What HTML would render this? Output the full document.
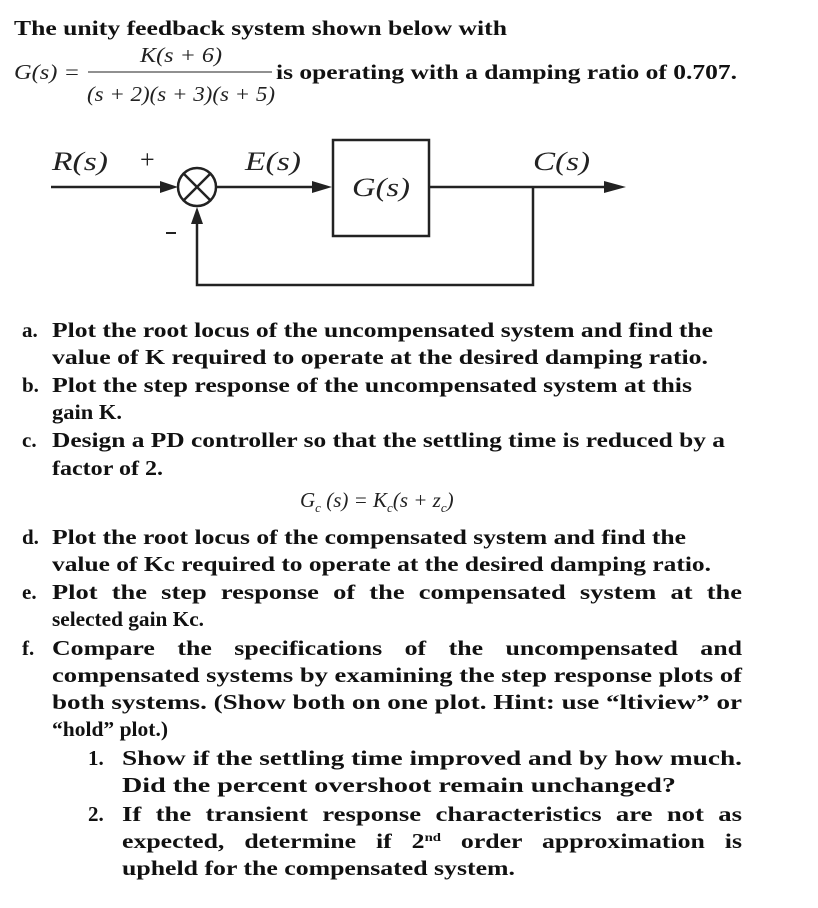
<!DOCTYPE html>
<html><head><meta charset="utf-8"><style>
html,body{margin:0;padding:0;background:#fff;}
svg{display:block}
.t{font-family:"Liberation Serif",serif;font-weight:bold;font-size:21px;fill:#111}
.m{font-family:"Liberation Serif",serif;font-style:italic;font-weight:normal;font-size:21px;fill:#222}
.d{font-family:"Liberation Serif",serif;font-style:italic;font-weight:normal;font-size:26px;fill:#222}
</style></head><body>
<svg width="818" height="908" viewBox="0 0 818 908" xmlns="http://www.w3.org/2000/svg">
<text class="t" x="14" y="35" textLength="493" lengthAdjust="spacingAndGlyphs">The unity feedback system shown below with</text>
<text class="m" x="14" y="79" textLength="66" lengthAdjust="spacingAndGlyphs">G(s) =</text>
<text class="m" x="140" y="62" textLength="82" lengthAdjust="spacingAndGlyphs">K(s + 6)</text>
<line x1="88" y1="72" x2="272" y2="72" stroke="#222" stroke-width="1"/>
<text class="m" x="87" y="101" textLength="188" lengthAdjust="spacingAndGlyphs">(s + 2)(s + 3)(s + 5)</text>
<text class="t" x="276" y="79" textLength="461" lengthAdjust="spacingAndGlyphs">is operating with a damping ratio of 0.707.</text>

<g stroke="#222" stroke-width="2.5" fill="none">
<line x1="51" y1="187" x2="170" y2="187"/>
<circle cx="197" cy="187" r="19"/>
<line x1="184" y1="174" x2="210" y2="200"/>
<line x1="210" y1="174" x2="184" y2="200"/>
<line x1="216" y1="187" x2="322" y2="187"/>
<rect x="333" y="140" width="96" height="96"/>
<line x1="430" y1="187" x2="612" y2="187"/>
<polyline points="533,187 533,285 197,285 197,216"/>
</g>
<g fill="#222">
<polygon points="178,187 160,181 160,193"/>
<polygon points="332,187 312,181 312,193"/>
<polygon points="626,187 604,181 604,193"/>
<polygon points="197,207 191,224 203,224"/>
</g>
<text class="d" x="52" y="170" textLength="56" lengthAdjust="spacingAndGlyphs">R(s)</text>
<text class="d" x="140" y="168" style="font-style:normal">+</text>
<text class="d" x="245" y="170" textLength="56" lengthAdjust="spacingAndGlyphs">E(s)</text>
<text class="d" x="352" y="196" textLength="58" lengthAdjust="spacingAndGlyphs">G(s)</text>
<text class="d" x="533" y="170" textLength="57" lengthAdjust="spacingAndGlyphs">C(s)</text>
<line x1="166" y1="233" x2="176" y2="233" stroke="#222" stroke-width="2"/>

<text class="t" x="22" y="337">a.</text>
<text class="t" x="52" y="337" textLength="661" lengthAdjust="spacingAndGlyphs">Plot the root locus of the uncompensated system and find the</text>
<text class="t" x="52" y="364" textLength="656" lengthAdjust="spacingAndGlyphs">value of K required to operate at the desired damping ratio.</text>
<text class="t" x="22" y="392">b.</text>
<text class="t" x="52" y="392" textLength="640" lengthAdjust="spacingAndGlyphs">Plot the step response of the uncompensated system at this</text>
<text class="t" x="52" y="419" textLength="70" lengthAdjust="spacingAndGlyphs">gain K.</text>
<text class="t" x="22" y="447">c.</text>
<text class="t" x="52" y="447" textLength="673" lengthAdjust="spacingAndGlyphs">Design a PD controller so that the settling time is reduced by a</text>
<text class="t" x="52" y="475" textLength="111" lengthAdjust="spacingAndGlyphs">factor of 2.</text>
<text class="m" x="300" y="507" font-size="22">G<tspan font-size="13" dy="5">c</tspan><tspan dy="-5"> (s) = K</tspan><tspan font-size="13" dy="5">c</tspan><tspan dy="-5">(s + z</tspan><tspan font-size="13" dy="5">c</tspan><tspan dy="-5">)</tspan></text>
<text class="t" x="22" y="544">d.</text>
<text class="t" x="52" y="544" textLength="634" lengthAdjust="spacingAndGlyphs">Plot the root locus of the compensated system and find the</text>
<text class="t" x="52" y="571" textLength="659" lengthAdjust="spacingAndGlyphs">value of Kc required to operate at the desired damping ratio.</text>
<text class="t" x="22" y="599">e.</text>
<text class="t" x="52" y="599" word-spacing="6" textLength="690" lengthAdjust="spacingAndGlyphs">Plot the step response of the compensated system at the</text>
<text class="t" x="52" y="626" textLength="152" lengthAdjust="spacingAndGlyphs">selected gain Kc.</text>
<text class="t" x="22" y="655">f.</text>
<text class="t" x="52" y="655" word-spacing="13" textLength="690" lengthAdjust="spacingAndGlyphs">Compare the specifications of the uncompensated and</text>
<text class="t" x="52" y="682" textLength="690" lengthAdjust="spacingAndGlyphs">compensated systems by examining the step response plots of</text>
<text class="t" x="52" y="709" textLength="690" lengthAdjust="spacingAndGlyphs">both systems.  (Show both on one plot.  Hint: use “ltiview” or</text>
<text class="t" x="52" y="736" textLength="116" lengthAdjust="spacingAndGlyphs">“hold” plot.)</text>
<text class="t" x="88" y="765">1.</text>
<text class="t" x="122" y="765" textLength="620" lengthAdjust="spacingAndGlyphs">Show if the settling time improved and by how much.</text>
<text class="t" x="122" y="792" textLength="554" lengthAdjust="spacingAndGlyphs">Did the percent overshoot remain unchanged?</text>
<text class="t" x="88" y="821">2.</text>
<text class="t" x="122" y="821" word-spacing="6" textLength="620" lengthAdjust="spacingAndGlyphs">If the transient response characteristics are not as</text>
<text class="t" x="122" y="848" word-spacing="11" textLength="620" lengthAdjust="spacingAndGlyphs">expected, determine if 2<tspan font-size="12" dy="-7">nd</tspan><tspan dy="7"> order approximation is</tspan></text>
<text class="t" x="122" y="875" textLength="393" lengthAdjust="spacingAndGlyphs">upheld for the compensated system.</text>
</svg>
</body></html>
